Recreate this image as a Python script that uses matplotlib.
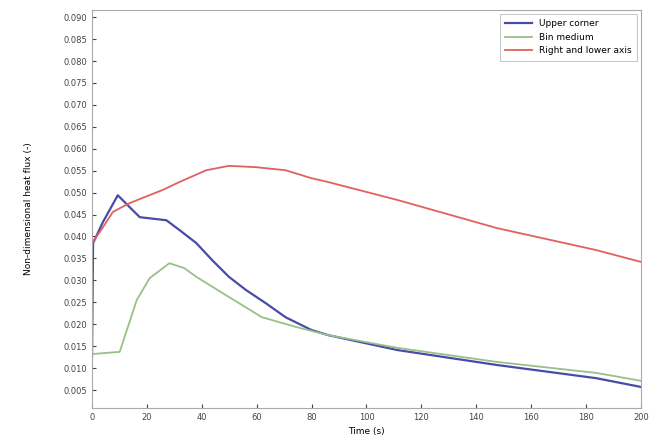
import matplotlib
matplotlib.use("Agg")
import matplotlib.pyplot as plt
import numpy as np

# Data
t_upper = [0, 0.4, 4, 9.4, 13.7, 17.4, 27.1, 31.8, 38, 43.8, 49.9, 56.1, 63.3, 70.5, 79.9, 86.1, 111.4, 147.6, 183.7, 200]
y_upper = [0.0125, 0.0385, 0.0433, 0.0494, 0.0467, 0.0444, 0.0437, 0.0415, 0.0385, 0.0346, 0.0308, 0.0278, 0.0248, 0.0216, 0.0187, 0.0175, 0.0141, 0.0107, 0.0077, 0.0057]

t_mid = [0, 10.1, 16.3, 21, 28.2, 33.6, 38, 49.9, 61.9, 74.2, 86.1, 111.4, 147.6, 183.7, 200]
y_mid = [0.0132, 0.0137, 0.0255, 0.0305, 0.0339, 0.0328, 0.0308, 0.0262, 0.0216, 0.0194, 0.0175, 0.0146, 0.0114, 0.0089, 0.0071]

t_right = [0, 4, 7.6, 13.7, 25.7, 31.8, 41.6, 49.9, 59.7, 70.5, 79.9, 86.1, 111.4, 147.6, 183.7, 200]
y_right = [0.0385, 0.0421, 0.0456, 0.0476, 0.0506, 0.0524, 0.0551, 0.0561, 0.0558, 0.0551, 0.0533, 0.0524, 0.0483, 0.0419, 0.0369, 0.0342]

labels = ["Upper corner", "Bin medium", "Right and lower axis"]
x_ticks = [0, 20, 40, 60, 80, 100, 120, 140, 160, 180, 200]
y_ticks = [0.005 * k for k in range(1, 19)]

fig = plt.figure(figsize=(6.51, 4.40), dpi=100)
ax = fig.add_axes([0.1413, 0.0727, 0.8433, 0.9043])

ax.plot(t_upper, y_upper, color="#4a4aa8", lw=1.6, label=labels[0])
ax.plot(t_mid, y_mid, color="#98c088", lw=1.3, label=labels[1])
ax.plot(t_right, y_right, color="#e06060", lw=1.3, label=labels[2])

ax.set_xlim(0, 200)
ax.set_ylim(0.0009, 0.0916)
ax.set_xticks(x_ticks)
ax.set_yticks(y_ticks)
ax.set_yticklabels([f"{v:.3f}" for v in y_ticks])
ax.tick_params(direction="in", labelsize=6, length=3, colors="#444444")
for s in ax.spines.values():
    s.set_color("#aaaaaa")
    s.set_linewidth(0.8)

ax.set_xlabel("Time (s)", fontsize=6.5, labelpad=4)
ax.set_ylabel("Non-dimensional heat flux (-)", fontsize=6.5, labelpad=22)

leg = ax.legend(loc="upper right", fontsize=6.5, frameon=True, fancybox=False,
                edgecolor="#aaaaaa", borderaxespad=0.4, handlelength=3.0,
                borderpad=0.6, labelspacing=0.5)
leg.get_frame().set_linewidth(0.6)

fig.savefig("out.png", dpi=100)
